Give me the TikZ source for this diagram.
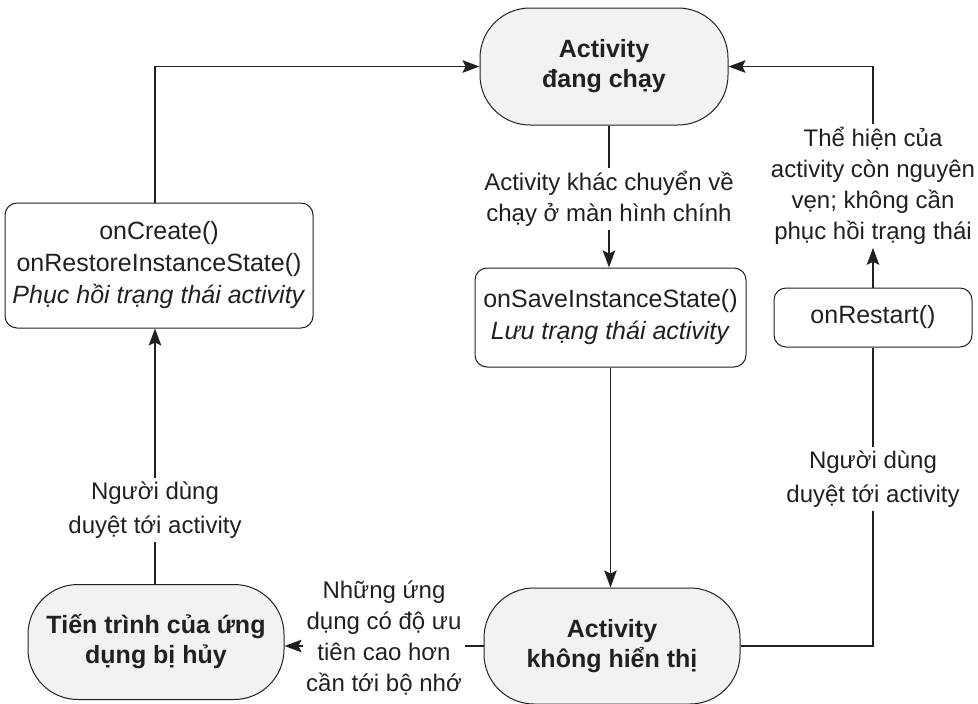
\documentclass[tikz,border=0pt]{standalone}
\usepackage{fontspec}
\setmainfont{Liberation Sans}
\usetikzlibrary{arrows.meta}
\definecolor{ink}{HTML}{231F20}
\definecolor{statefill}{HTML}{F1F2F4}
\begin{document}
\begin{tikzpicture}[x=1pt,y=-1pt,
  every node/.style={text=ink, align=center},
  state/.style={draw=ink, fill=statefill, line width=1pt, rounded corners=50pt,
    minimum width=#1, minimum height=116pt, inner sep=0pt,
    font=\bfseries\fontsize{25}{30}\selectfont},
  callbox/.style={draw=ink, line width=1pt, rounded corners=12pt, inner sep=0pt,
    font=\fontsize{25}{32}\selectfont},
  lbl/.style={font=\fontsize{24}{31}\selectfont, inner sep=3pt},
  conn/.style={draw=ink, line width=1.5pt},
  arr/.style={conn, -{Stealth[length=17pt,width=12.5pt,inset=3pt]}}
]
\useasboundingbox (0,0) rectangle (978,704);

% states
\node[state=248pt, minimum height=117pt] (run) at (604,66.5) {Activity\\đang chạy};
\node[state=256pt] (hidden) at (612,646) {Activity\\không hiển thị};
\node[state=256pt, minimum height=115pt] (killed) at (156,642) {Tiến trình của ứng\\dụng bị hủy};

% callback boxes
\node[callbox, minimum width=308pt, minimum height=125pt] (create) at (159,265.5)
  {onCreate()\\onRestoreInstanceState()\\\textit{Phục hồi trạng thái activity}};
\node[callbox, minimum width=271pt, minimum height=99pt] (save) at (610.5,317.5)
  {onSaveInstanceState()\\\textit{Lưu trạng thái activity}};
\node[callbox, minimum width=198pt, minimum height=59pt] (restart) at (873,317.5)
  {onRestart()};

% labels
\node[lbl] (l1) at (609,199) {Activity khác chuyển về\\chạy ở màn hình chính};
\node[lbl] (l3) at (873,186) {Thể hiện của\\activity còn nguyên\\vẹn; không cần\\phục hồi trạng thái};
\node[lbl, font=\fontsize{24}{34}\selectfont] (l4) at (873,479) {Người dùng\\duyệt tới activity};
\node[lbl, font=\fontsize{24}{34}\selectfont] (l5) at (155,510) {Người dùng\\duyệt tới activity};
\node[lbl] (l6) at (384,638) {Những ứng\\dụng có độ ưu\\tiên cao hơn\\cần tới bộ nhớ};

% connectors
\draw[arr] (create.north -| l5) |- (run.west);
\draw[arr] (l3.north) |- (run.east);
\draw[conn] (l1.north |- run.south) -- (l1.north);
\draw[arr] (l1.south) -- (l1.south |- save.north);
\draw[arr] (save.south) -- (save.south |- hidden.north);
\draw[arr] (restart.north) -- (l3.south);
\draw[conn] (hidden.east) -| (l4.south);
\draw[conn] (l4.north) -- (restart.south);
\draw[conn] (l5.south |- killed.north) -- (l5.south);
\draw[arr] (l5.north) -- (l5.north |- create.south);
\draw[conn] (hidden.west) -- (hidden.west -| l6.east);
\draw[arr] (hidden.west -| l6.west) -- (hidden.west -| killed.east);
\end{tikzpicture}
\end{document}
